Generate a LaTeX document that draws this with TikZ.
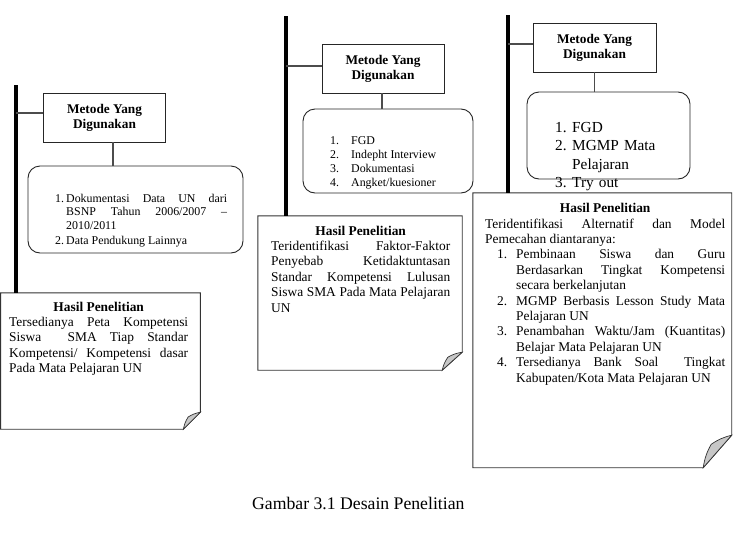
\documentclass[tikz,border=0pt]{standalone}
\usepackage{fontspec}
\setmainfont{Liberation Serif}
\usetikzlibrary{calc,positioning}

% numbered line with hanging text: [left offset]{hang}{number}{text}
\newcommand{\numitem}[4][0pt]{\par\noindent\hangindent=\dimexpr#1+#2\relax\hangafter=1%
  \hskip#1\relax\hbox to #2{#3\hfil}#4\par}

% frame with folded corner round a node: {node}{fold x}{fold y}
\newcommand{\foldframe}[3]{%
  \draw[hasilline] (#1.north west) -- (#1.north east) -- ([yshift=#3]#1.south east)
    -- ([xshift=-#2]#1.south east) -- (#1.south west) -- cycle;
  \filldraw[foldflap] ([yshift=#3]#1.south east) to[bend right=10]
    ([xshift=-0.72*#2,yshift=0.72*#3]#1.south east) to[bend right=10]
    ([xshift=-#2]#1.south east) -- cycle;}

\tikzset{
  metodebox/.style={draw=black!85, line width=0.9pt, minimum width=122pt, minimum height=49pt,
    inner sep=0pt, align=center, font=\fontsize{13.3}{15}\selectfont\bfseries},
  listbox/.style={draw=black!85, line width=0.9pt, rounded corners=12pt, inner sep=0pt},
  listtext/.style={anchor=base west, inner sep=0pt, align=justify},
  hasilarea/.style={inner sep=0pt},
  hasiltext/.style={anchor=base west, inner sep=0pt, align=justify, font=\fontsize{13.4}{15.4}\selectfont},
  hasilline/.style={draw=black!80, line width=0.9pt},
  foldflap/.style={fill=black!22, draw=black!80, line width=0.7pt},
  spine/.style={line width=4pt},
  joint/.style={line width=1.2pt, black!70}
}

\begin{document}
\begin{tikzpicture}[x=1pt,y=-1pt]
\useasboundingbox (0,0) rectangle (733,533);

% first column
\node[metodebox] (met1) at (104.5,117.5) {Metode Yang\\Digunakan};
\node[listbox, minimum width=215pt, minimum height=87pt] (list1) at (135.5,209.5) {};
\node[listtext, text width=172pt, font=\fontsize{11.9}{13.2}\selectfont] (list1txt) at (55,187.5)
  {\parskip=2pt
   \numitem{11pt}{1.}{Dokumentasi Data UN dari\linebreak BSNP Tahun 2006/2007 – 2010/2011}
   \numitem{11pt}{2.}{Data Pendukung Lainnya}};
\node[hasilarea, minimum width=199.4pt, minimum height=136pt] (hasil1) at (100.5,361) {};
\node[hasiltext, text width=179pt] (hasil1txt) at (9,311.1)
  {{\centering\bfseries Hasil Penelitian\par}
   Tersedianya Peta Kompetensi\linebreak Siswa \ SMA Tiap Standar\linebreak
   Kompetensi/ Kompetensi dasar\linebreak Pada Mata Pelajaran UN};
\foldframe{hasil1}{17pt}{17pt}

\coordinate (spine1) at (16,85);
\draw[spine] (spine1) -- (spine1 |- hasil1.north);
\coordinate (tie1) at ([yshift=4.5pt]met1.west);
\draw[joint] (tie1) -- (spine1 |- tie1);
\coordinate (drop1) at ([xshift=8.5pt]met1.south);
\draw[joint] (drop1) -- (drop1 |- list1.north);

% second column
\node[metodebox] (met2) at (383,68.5) {Metode Yang\\Digunakan};
\node[listbox, minimum width=170pt, minimum height=84pt] (list2) at (388,151) {};
\node[listtext, text width=130pt, font=\fontsize{11.9}{13.9}\selectfont] (list2txt) at (330,130.6)
  {\numitem{21pt}{1.}{FGD}
   \numitem{21pt}{2.}{Indepht Interview}
   \numitem{21pt}{3.}{Dokumentasi}
   \numitem{21pt}{4.}{Angket/kuesioner}};
\node[hasilarea, minimum width=204pt, minimum height=154pt] (hasil2) at (360,293) {};
\node[hasiltext, text width=179pt] (hasil2txt) at (271,235.1)
  {{\centering\bfseries Hasil Penelitian\par}
   Teridentifikasi Faktor-Faktor\linebreak Penyebab Ketidaktuntasan\linebreak
   Standar Kompetensi Lulusan\linebreak Siswa SMA Pada Mata Pelajaran\linebreak UN};
\foldframe{hasil2}{20pt}{18pt}

\coordinate (spine2) at (286,16);
\draw[spine] (spine2) -- (spine2 |- hasil2.north);
\coordinate (tie2) at ([yshift=2.5pt]met2.west);
\draw[joint] (tie2) -- (spine2 |- tie2);
\coordinate (drop2) at ([xshift=-1pt]met2.south);
\draw[joint] (drop2) -- (drop2 |- list2.north);

% third column
\node[metodebox, minimum width=123pt] (met3) at (594.5,47.5) {Metode Yang\\Digunakan};
\node[listbox, minimum width=163pt, minimum height=87pt] (list3) at (608.5,135.5) {};
\node[listtext, align=left, text width=125pt, font=\fontsize{15.3}{18.3}\selectfont] (list3txt) at (555,114.1)
  {\numitem{17pt}{1.}{FGD}
   \numitem{17pt}{2.}{MGMP Mata\newline Pelajaran}
   \numitem{17pt}{3.}{Try out}};
\node[hasilarea, minimum width=258.5pt, minimum height=274.5pt] (hasil3) at (602.25,330.25) {};
\node[hasiltext, text width=240pt] (hasil3txt) at (485,212.7)
  {{\centering\bfseries Hasil Penelitian\par}
   Teridentifikasi Alternatif dan Model\linebreak Pemecahan diantaranya:
   \numitem[12pt]{19pt}{1.}{Pembinaan Siswa dan Guru\linebreak Berdasarkan Tingkat Kompetensi\linebreak secara berkelanjutan}
   \numitem[12pt]{19pt}{2.}{MGMP Berbasis Lesson Study Mata\linebreak Pelajaran UN}
   \numitem[12pt]{19pt}{3.}{Penambahan Waktu/Jam (Kuantitas)\linebreak Belajar Mata Pelajaran UN}
   \numitem[12pt]{19pt}{4.}{Tersedianya Bank Soal \ Tingkat\linebreak Kabupaten/Kota Mata Pelajaran UN}};
\foldframe{hasil3}{28.5pt}{32.5pt}

\coordinate (spine3) at (508,15);
\draw[spine] (spine3) -- (spine3 |- hasil3.north);
\coordinate (tie3) at ([yshift=3.5pt]met3.west);
\draw[joint] (tie3) -- (spine3 |- tie3);
\draw[joint] (met3.south) -- (met3.south |- list3.north);

% caption
\node[anchor=base, inner sep=0pt, font=\fontsize{17.7}{21}\selectfont] (caption) at (358.3,509.3)
  {Gambar 3.1 Desain Penelitian};
\end{tikzpicture}
\end{document}
